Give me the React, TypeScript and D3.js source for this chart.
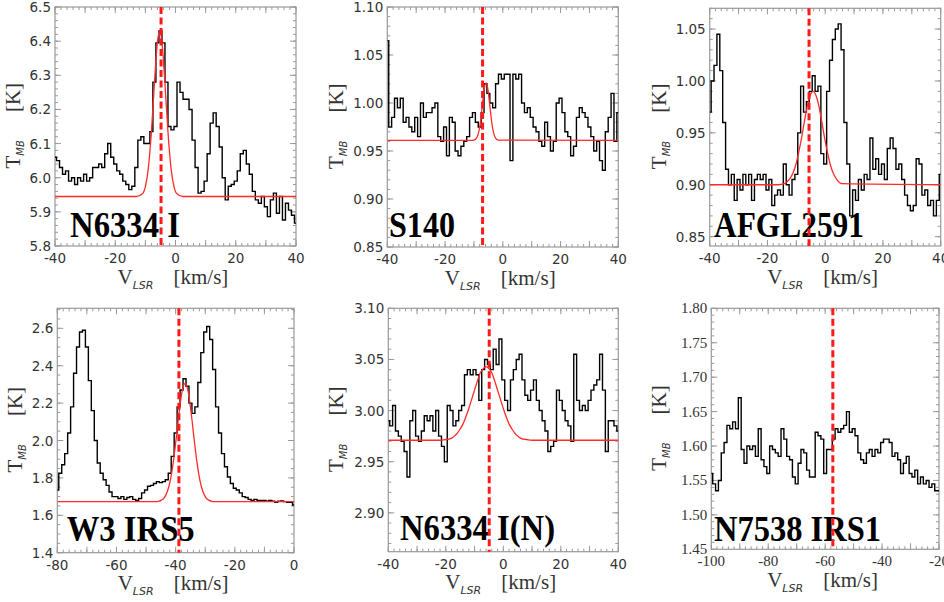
import React from 'react';
import * as d3 from 'd3';

// ---------------- DATA ----------------
// 1 km/s channels
const n6334iVel = d3.range(-40, 41);
const n6334iT = [
  6.06, 6.05, 6.03, 6.01, 6.02, 5.99, 6.0, 5.98, 6.0, 5.99,
  6.01, 5.99, 6.0, 6.03, 6.03, 6.04, 6.03, 6.07, 6.1, 6.06,
  6.04, 6.02, 6.01, 5.99, 5.98, 5.965, 5.975, 6.03, 6.11, 6.12,
  6.1, 6.1, 6.135, 6.28, 6.395, 6.43, 6.395, 6.28, 6.15, 6.14,
  6.15, 6.28, 6.25, 6.23, 6.23, 6.2, 6.11, 6.03, 5.955, 5.96,
  5.99, 6.07, 6.16, 6.19, 6.15, 6.09, 6.0, 5.935, 5.975, 5.98,
  5.99, 6.02, 6.07, 6.08, 6.04, 6.01, 5.96, 5.935, 5.925, 5.945,
  5.915, 5.886, 5.935, 5.955, 5.896, 5.945, 5.876, 5.925, 5.905, 5.89,
  5.867,
];
const n6334iFitV = [-40, -13, -11, -10, -9, -8, -7, -6, -5.25, -4.5, -3.5, -2.5, -1.5, -0.5, 0.5, 2.5, 40];
const n6334iFitT = [5.945, 5.945, 5.953, 5.974, 6.029, 6.134, 6.276, 6.397, 6.43, 6.397, 6.276, 6.134, 6.029, 5.974, 5.953, 5.945, 5.945];

const s140Vel = d3.range(-40, 41);
const s140T = [
  1.065, 0.975, 0.985, 1.005, 0.995, 1.005, 0.98, 0.985, 0.975, 0.97,
  0.985, 0.965, 1.0, 0.985, 0.99, 0.99, 0.995, 1.0, 0.965, 0.96,
  0.975, 0.945, 0.985, 0.98, 0.95, 0.945, 0.955, 0.96, 0.965, 0.985,
  0.99, 0.98, 0.975, 0.99, 1.02, 1.01, 1.0, 0.995, 1.02, 1.03,
  1.025, 1.03, 1.03, 0.94, 1.03, 1.025, 1.03, 1.0, 0.99, 0.995,
  0.985, 0.975, 0.97, 0.96, 0.955, 0.98, 0.965, 0.95, 0.96, 1.0,
  1.005, 0.99, 0.97, 0.965, 0.945, 0.955, 0.985, 0.995, 0.99, 0.985,
  0.975, 0.965, 0.95, 0.96, 0.94, 0.93, 0.97, 0.985, 1.01, 0.96,
  0.99,
];
const s140FitV = [-40, -11, -10, -9, -8, -7, -6.5, -5.8, -5.1, -4.6, -3.6, -2.6, -1.6, 40];
const s140FitT = [0.961, 0.961, 0.9613, 0.964, 0.975, 1.0, 1.013, 1.021, 1.013, 1.0, 0.975, 0.964, 0.9613, 0.961];

const afglVel = d3.range(-40, 41);
const afglT = [
  0.97, 1.0, 1.015, 1.045, 1.01, 0.96, 0.915, 0.9, 0.91, 0.885,
  0.905, 0.895, 0.91, 0.9, 0.91, 0.885, 0.905, 0.91, 0.905, 0.91,
  0.895, 0.905, 0.88, 0.89, 0.895, 0.89, 0.92, 0.9, 0.89, 0.905,
  0.91, 0.95, 0.995, 0.97, 0.98, 0.99, 1.005, 0.99, 0.995, 0.93,
  0.92, 0.99, 1.02, 1.04, 1.05, 1.055, 1.03, 0.96, 0.92, 0.87,
  0.895, 0.885, 0.905, 0.895, 0.91, 0.905, 0.945, 0.915, 0.925, 0.91,
  0.92, 0.905, 0.935, 0.945, 0.935, 0.915, 0.92, 0.905, 0.89, 0.88,
  0.875, 0.88, 0.925, 0.92, 0.89, 0.895, 0.88, 0.885, 0.87, 0.885,
  0.91,
];
const afglFitV = [-40, -16.2, -14.2, -13.2, -12.2, -11.2, -10.2, -9.2, -8.2, -7.2, -6.2, -5.2, -4.2, -3.2, -2.2, -1.2, -0.2, 0.8, 1.8, 2.8, 3.8, 5.8, 40];
const afglFitT = [0.9, 0.9, 0.901, 0.903, 0.906, 0.911, 0.919, 0.931, 0.945, 0.961, 0.976, 0.986, 0.99, 0.986, 0.976, 0.961, 0.945, 0.931, 0.919, 0.911, 0.906, 0.901, 0.9];

const w3Vel = d3.range(-80, 1);
const w3T = [
  1.735, 1.825, 1.87, 1.93, 2.04, 2.18, 2.36, 2.5, 2.58, 2.59,
  2.5, 2.32, 2.16, 2.0, 1.88, 1.825, 1.79, 1.76, 1.725, 1.7,
  1.7, 1.69, 1.7, 1.685, 1.695, 1.7, 1.685, 1.68, 1.69, 1.72,
  1.735, 1.755, 1.76, 1.77, 1.78, 1.775, 1.78, 1.79, 1.825, 1.915,
  2.04, 2.18, 2.27, 2.33, 2.29, 2.2, 2.145, 2.18, 2.31, 2.47,
  2.58, 2.61, 2.54, 2.38, 2.18, 2.04, 1.93, 1.86, 1.805, 1.77,
  1.745, 1.735, 1.72, 1.7, 1.695, 1.685, 1.68, 1.685, 1.68, 1.68,
  1.68, 1.675, 1.68, 1.675, 1.67, 1.675, 1.677, 1.673, 1.67, 1.67,
  1.655,
];
const w3FitV = [-80, -46.8, -45.8, -44.8, -43.8, -42.8, -41.8, -40.8, -39.8, -38.8, -37.8, -36.8, -35.8, -34.8, -33.8, -32.8, -31.8, -30.8, -29.8, -28.8, -27.8, -26.8, 0];
const w3FitT = [1.673, 1.673, 1.675, 1.681, 1.695, 1.727, 1.787, 1.884, 2.014, 2.154, 2.264, 2.306, 2.264, 2.154, 2.014, 1.884, 1.787, 1.727, 1.695, 1.681, 1.675, 1.673, 1.673];

const n6334nVel = d3.range(-40, 41);
const n6334nT = [
  2.99, 2.985, 3.005, 2.98, 2.975, 2.97, 2.96, 2.935, 2.99, 3.0,
  2.975, 2.97, 2.98, 2.995, 2.99, 2.995, 2.98, 3.0, 2.975, 2.965,
  2.95, 3.005, 3.0, 2.985, 2.99, 3.0, 3.005, 3.035, 3.04, 3.035,
  3.04, 3.035, 3.01, 3.04, 3.05, 3.045, 3.04, 3.06, 3.045, 3.07,
  3.03, 3.01, 3.0, 3.03, 3.04, 3.05, 3.055, 3.03, 3.015, 3.01,
  3.02, 3.03, 3.01, 3.0, 2.99, 2.98, 2.96, 2.965, 2.97, 3.02,
  3.01, 3.0, 2.99, 2.985, 2.97, 3.055, 3.01, 3.0, 3.005, 3.0,
  3.01, 3.02, 3.025, 3.03, 3.055, 3.02, 2.96, 2.99, 2.99, 2.985,
  2.98,
];
const n6334nFitV = [-40, -22, -20, -19, -18, -17, -16, -15, -14, -13, -12, -11, -10, -9, -8, -7, -6, -5, -4, -3, -2, -1, 0, 1, 2, 3, 4, 5, 6, 7, 8, 10, 40];
const n6334nFitT = [2.971, 2.971, 2.9717, 2.972, 2.973, 2.975, 2.978, 2.982, 2.987, 2.994, 3.002, 3.011, 3.02, 3.029, 3.037, 3.041, 3.043, 3.041, 3.037, 3.029, 3.02, 3.011, 3.002, 2.994, 2.987, 2.982, 2.978, 2.975, 2.973, 2.972, 2.9717, 2.971, 2.971];

const n7538Vel = d3.range(-100, -19);
const n7538T = [
  1.56, 1.545, 1.535, 1.55, 1.59, 1.605, 1.63, 1.625, 1.635, 1.625,
  1.67, 1.595, 1.575, 1.6, 1.595, 1.6, 1.585, 1.625, 1.58, 1.57,
  1.56, 1.6, 1.595, 1.59, 1.585, 1.625, 1.61, 1.585, 1.58, 1.555,
  1.545, 1.575, 1.595, 1.59, 1.565, 1.555, 1.555, 1.62, 1.615, 1.61,
  1.56, 1.595, 1.595, 1.61, 1.625, 1.62, 1.625, 1.63, 1.65, 1.62,
  1.625, 1.615, 1.59, 1.58, 1.575, 1.59, 1.595, 1.585, 1.595, 1.59,
  1.605, 1.61, 1.61, 1.605, 1.585, 1.59, 1.58, 1.56, 1.575, 1.585,
  1.56, 1.555, 1.565, 1.545, 1.555, 1.545, 1.55, 1.54, 1.545, 1.535,
  1.535,
];

const sourceNames = ['N6334 I', 'S140', 'AFGL2591', 'W3 IRS5', 'N6334 I(N)', 'N7538 IRS1'];
const systemicV = [-4.8, -7.0, -5.6, -38.9, -4.9, -57.3];
const xDomains: [number, number][] = [[-40, 40], [-40, 40], [-40, 40], [-80, 0], [-40, 40], [-100, -20]];
const yDomains: [number, number][] = [[5.8, 6.5], [0.85, 1.1], [0.841, 1.07], [1.4, 2.707], [2.862, 3.1], [1.45, 1.8]];
const yLabelSteps = [0.1, 0.05, 0.05, 0.2, 0.05, 0.05];
const yMinorSteps = [0.02, 0.01, 0.01, 0.05, 0.01, 0.01];
const yDecimals = [1, 2, 2, 1, 2, 2];

// ---------------- LAYOUT ----------------
const boxes = [
  { left: 55, right: 296, top: 7, bottom: 246 },
  { left: 387.3, right: 618.3, top: 7, bottom: 247 },
  { left: 709.7, right: 940.7, top: 8.3, bottom: 246 },
  { left: 57.3, right: 294, top: 308.3, bottom: 552.7 },
  { left: 388.3, right: 618.3, top: 308.3, bottom: 551.7 },
  { left: 711.3, right: 939, top: 308.3, bottom: 549.3 },
];
const yTitleOffsets = [35, 44, 44, 35, 45, 45];
const namePos = [
  { x: 70, y: 236.5, w: 110 },
  { x: 389, y: 236.5, w: 66 },
  { x: 714, y: 236.5, w: 150 },
  { x: 66.7, y: 541, w: 128 },
  { x: 400, y: 540, w: 155 },
  { x: 714, y: 540.5, w: 167 },
];
const serifTickPanels = [false, false, false, false, false, true];

const SANS = "'DejaVu Sans', Verdana, sans-serif";
const SERIF = "'Liberation Serif', 'Times New Roman', serif";
const FRAME = '#9a9a9a';
const TEXT = '#333';

const spectra = [
  { vel: n6334iVel, temp: n6334iT, fitV: n6334iFitV, fitT: n6334iFitT },
  { vel: s140Vel, temp: s140T, fitV: s140FitV, fitT: s140FitT },
  { vel: afglVel, temp: afglT, fitV: afglFitV, fitT: afglFitT },
  { vel: w3Vel, temp: w3T, fitV: w3FitV, fitT: w3FitT },
  { vel: n6334nVel, temp: n6334nT, fitV: n6334nFitV, fitT: n6334nFitT },
  { vel: n7538Vel, temp: n7538T, fitV: null as number[] | null, fitT: null as number[] | null },
];

function stepTicks(domain: [number, number], step: number): number[] {
  const lo = Math.min(domain[0], domain[1]);
  const hi = Math.max(domain[0], domain[1]);
  const a = Math.ceil(lo / step - 1e-6);
  const b = Math.floor(hi / step + 1e-6);
  return d3.range(a, b + 1).map((i) => +(i * step).toFixed(6));
}

function Panel({ i }: { i: number }) {
  const box = boxes[i];
  const sp = spectra[i];
  const x = d3.scaleLinear().domain(xDomains[i]).range([box.left, box.right]);
  const y = d3.scaleLinear().domain(yDomains[i]).range([box.bottom, box.top]);
  const specPath = d3
    .line<number>()
    .x((_, k) => x(sp.vel[k]))
    .y((d) => y(d))
    .curve(d3.curveStep)(sp.temp) as string;
  const fitPath =
    sp.fitV && sp.fitT
      ? (d3
          .line<number>()
          .x((_, k) => x((sp.fitV as number[])[k]))
          .y((d) => y(d))
          .curve(d3.curveMonotoneX)(sp.fitT) as string)
      : null;

  const xMinor = stepTicks(xDomains[i], 2);
  const xMajor = stepTicks(xDomains[i], 10);
  const xLabels = stepTicks(xDomains[i], 20);
  const yMinor = stepTicks(yDomains[i], yMinorSteps[i]);
  const yMajor = stepTicks(yDomains[i], yLabelSteps[i]);
  const MJ = 6;
  const MN = 3;
  const clipId = `clip-${i}`;
  const cx = (box.left + box.right) / 2;
  const cy = (box.top + box.bottom) / 2;
  const tickFont = serifTickPanels[i] ? SERIF : SANS;
  const tickSize = serifTickPanels[i] ? 15 : 13.5;
  const yTitleX = box.left - yTitleOffsets[i];

  return (
    <g>
      <defs>
        <clipPath id={clipId}>
          <rect x={box.left} y={box.top} width={box.right - box.left} height={box.bottom - box.top} />
        </clipPath>
      </defs>
      {/* ticks */}
      <g stroke={FRAME} strokeWidth={1}>
        {xMinor.map((v) => (
          <g key={`xm${v}`}>
            <line x1={x(v)} x2={x(v)} y1={box.bottom} y2={box.bottom - MN} />
            <line x1={x(v)} x2={x(v)} y1={box.top} y2={box.top + MN} />
          </g>
        ))}
        {xMajor.map((v) => (
          <g key={`xM${v}`}>
            <line x1={x(v)} x2={x(v)} y1={box.bottom} y2={box.bottom - MJ} />
            <line x1={x(v)} x2={x(v)} y1={box.top} y2={box.top + MJ} />
          </g>
        ))}
        {yMinor.map((v) => (
          <g key={`ym${v}`}>
            <line x1={box.left} x2={box.left + MN} y1={y(v)} y2={y(v)} />
            <line x1={box.right} x2={box.right - MN} y1={y(v)} y2={y(v)} />
          </g>
        ))}
        {yMajor.map((v) => (
          <g key={`yM${v}`}>
            <line x1={box.left} x2={box.left + MJ} y1={y(v)} y2={y(v)} />
            <line x1={box.right} x2={box.right - MJ} y1={y(v)} y2={y(v)} />
          </g>
        ))}
      </g>
      <rect
        x={box.left}
        y={box.top}
        width={box.right - box.left}
        height={box.bottom - box.top}
        fill="none"
        stroke={FRAME}
        strokeWidth={1.2}
      />
      {/* tick labels */}
      <g fill={TEXT} fontFamily={tickFont} fontSize={tickSize}>
        {xLabels.map((v) => (
          <text key={`xl${v}`} x={x(v)} y={box.bottom + 17} textAnchor="middle">
            {`${v}`}
          </text>
        ))}
        {yMajor.map((v) => (
          <text key={`yl${v}`} x={box.left - 4} y={y(v) + 5} textAnchor="end">
            {v.toFixed(yDecimals[i])}
          </text>
        ))}
      </g>
      {/* axis titles */}
      <text x={cx - 58} y={box.bottom + 37.5} fill={TEXT} fontFamily={SERIF} fontSize={21}>
        V
        <tspan fontFamily={SANS} fontStyle="italic" fontSize={11} dy={5}>
          LSR
        </tspan>
      </text>
      <text x={cx - 2} y={box.bottom + 37.5} fill={TEXT} fontFamily={SERIF} fontSize={21}>
        [km/s]
      </text>
      <g transform={`translate(${yTitleX},${cy + 42}) rotate(-90)`}>
        <text x={0} y={0} fill={TEXT} fontFamily={SERIF} fontSize={21}>
          T
          <tspan fontFamily={SANS} fontStyle="italic" fontSize={10} dy={4}>
            MB
          </tspan>
        </text>
      </g>
      <g transform={`translate(${yTitleX},${cy - 29}) rotate(-90)`}>
        <text x={0} y={0} fill={TEXT} fontFamily={SERIF} fontSize={21} textAnchor="middle">
          [K]
        </text>
      </g>
      {/* data */}
      <g clipPath={`url(#${clipId})`}>
        <path d={specPath} fill="none" stroke="#000" strokeWidth={1.4} />
        {fitPath && <path d={fitPath} fill="none" stroke="#ff2a2a" strokeWidth={1.3} />}
      </g>
      <text
        x={namePos[i].x}
        y={namePos[i].y}
        fontFamily={SERIF}
        fontWeight="bold"
        fontSize={35}
        fill="#000"
        textLength={namePos[i].w}
        lengthAdjust="spacingAndGlyphs"
      >
        {sourceNames[i]}
      </text>
      <line
        x1={x(systemicV[i])}
        x2={x(systemicV[i])}
        y1={box.top}
        y2={box.bottom}
        stroke="#ff1a1a"
        strokeWidth={3}
        strokeDasharray="7,3.5"
      />
    </g>
  );
}

export default function App() {
  return (
    <svg
      width={944}
      height={602}
      viewBox="0 0 944 602"
      style={{ position: 'absolute', left: 0, top: 0, background: '#fff' }}
    >
      <rect x={0} y={0} width={944} height={602} fill="#fff" />
      {boxes.map((_, i) => (
        <Panel key={i} i={i} />
      ))}
    </svg>
  );
}
